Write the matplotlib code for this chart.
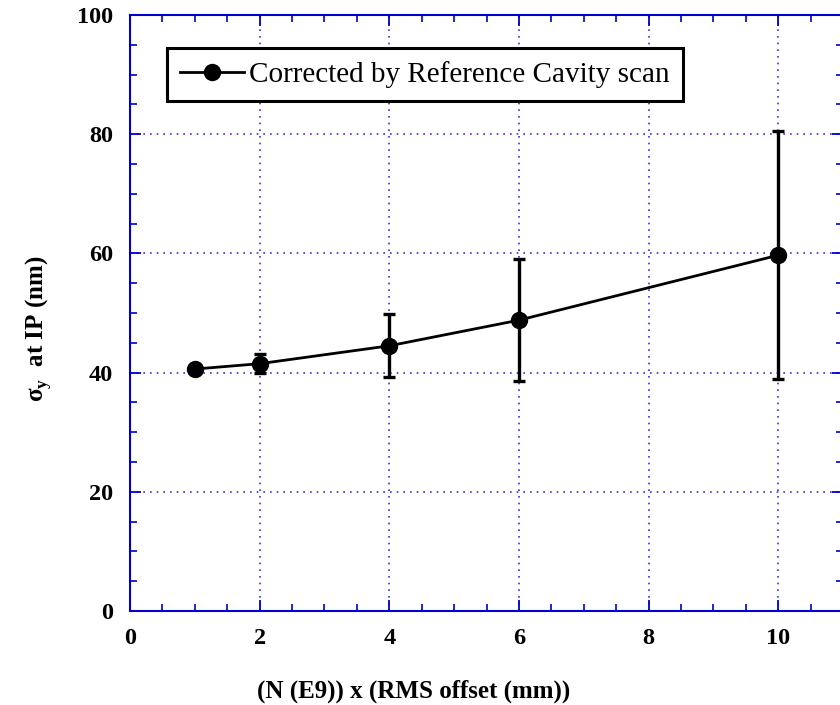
import numpy as np
import matplotlib
matplotlib.use('Agg')
from matplotlib import pyplot as plt
from matplotlib.ticker import MultipleLocator
from matplotlib.lines import Line2D

# beam size vs. charge x offset, corrected by reference cavity scan
x_vals = [1, 2, 4, 6, 10]
sigma_y = [40.6, 41.5, 44.5, 48.8, 59.7]
sigma_err = [0.0, 1.6, 5.3, 10.2, 20.8]

plt.rcParams['font.family'] = ['Liberation Serif', 'DejaVu Serif']
plt.rcParams['mathtext.fontset'] = 'custom'
plt.rcParams['mathtext.rm'] = 'Liberation Serif:bold'
plt.rcParams['mathtext.bf'] = 'Liberation Serif:bold'

blue = '#0000cc'

fig = plt.figure(figsize=(8.4, 7.05), dpi=100)
ax = fig.add_axes([0.1548, 0.1333, 0.8488, 0.8454])

ax.errorbar(x_vals, sigma_y, yerr=sigma_err, color='black', lw=2,
            marker='o', ms=11.5, elinewidth=2.4, capsize=4, capthick=2.4,
            zorder=3)

ax.set_xlim(0, 11)
ax.set_ylim(0, 100)
ax.xaxis.set_major_locator(MultipleLocator(2))
ax.xaxis.set_minor_locator(MultipleLocator(0.5))
ax.yaxis.set_major_locator(MultipleLocator(20))
ax.yaxis.set_minor_locator(MultipleLocator(5))

ax.grid(True, which='major', color=blue, ls=(0, (1, 3)), lw=1.2, alpha=0.8)
for s in ax.spines.values():
    s.set_color(blue)
    s.set_linewidth(1.5)
ax.tick_params(which='both', direction='in', top=True, right=True,
               color=blue, labelsize=17.5, pad=12)
ax.tick_params(which='major', length=8, width=1.3)
ax.tick_params(which='minor', length=5, width=1.2)
for lab in ax.get_xticklabels() + ax.get_yticklabels():
    lab.set_fontweight('bold')

ax.set_xlabel('(N (E9)) x (RMS offset (mm))', fontsize=18, fontweight='bold')
ax.xaxis.set_label_coords(0.398, -0.115)
ax.set_ylabel(r'σ$_{\mathbf{y}}$  at IP (nm)', fontsize=18, fontweight='bold')
ax.yaxis.set_label_coords(-0.106, 0.473)

handle = Line2D([], [], color='black', lw=2, marker='o', ms=11.5)
leg = ax.legend([handle], ['Corrected by Reference Cavity scan'],
                loc='upper left', bbox_to_anchor=(0.052, 0.9446), fontsize=21,
                fancybox=False, framealpha=1, edgecolor='black',
                handlelength=2.2, handletextpad=0.15, borderpad=0.45,
                borderaxespad=0)
leg.get_frame().set_linewidth(2.2)

fig.savefig('out.png', dpi=100)
